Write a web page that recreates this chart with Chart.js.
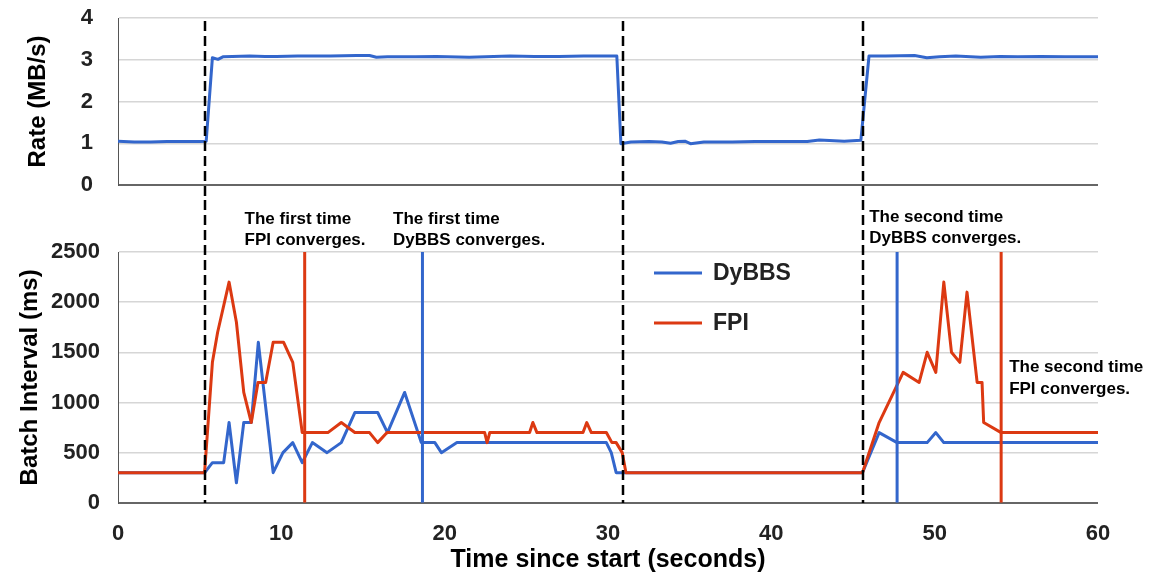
<!DOCTYPE html>
<html>
<head>
<meta charset="utf-8">
<script src="https://cdn.jsdelivr.net/npm/chart.js@4"></script>
<style>
  html, body { margin: 0; padding: 0; background: #fff; }
  #wrap { position: relative; width: 1151px; height: 577px; }
  canvas { position: absolute; left: 0; top: 0; }
</style>
</head>
<body>
<div id="wrap">
  <canvas id="batch" width="1151" height="577"></canvas>
  <canvas id="rate" width="1151" height="200"></canvas>
</div>
<script>
// values (time in seconds)
const rateTimes = [0, 1, 2, 3, 4, 5, 5.4, 5.78, 6.12, 6.42, 7, 8.06, 9, 9.7, 11, 12, 13, 14.6, 15.4, 15.82,
  16.5, 18.2, 19.5, 21.5, 24, 25.5, 27, 28.5, 30.54, 30.79, 31.4, 32.5, 33.3, 33.83, 34.3, 34.71, 35.05, 35.87, 37.6, 39,
  40.5, 42.2, 42.94, 44.46, 45.48, 45.98, 47, 48.77, 49.52, 50.3, 51.3, 52.82, 54, 55.1, 56.5, 58, 60];
const rateValues = [1.05, 1.03, 1.03, 1.04, 1.04, 1.04, 1.05, 3.05, 3.01, 3.07, 3.08, 3.09, 3.08, 3.08, 3.09, 3.09, 3.09, 3.1, 3.1, 3.06,
  3.07, 3.07, 3.08, 3.06, 3.09, 3.08, 3.08, 3.09, 3.09, 0.99, 1.03, 1.04, 1.03, 1.0, 1.04, 1.05, 0.99, 1.03, 1.03, 1.04,
  1.04, 1.04, 1.08, 1.05, 1.07, 3.09, 3.09, 3.1, 3.05, 3.07, 3.09, 3.06, 3.08, 3.07, 3.08, 3.07, 3.07];

const fpiTimes = [0, 5.3, 5.78, 6.1, 6.8, 7.25, 7.7, 8.16, 8.57, 9.04, 9.5, 10.14, 10.7, 11.28, 12.85, 13.67, 14.5, 15.4, 15.9, 16.47,
  22.45, 22.6, 22.76, 25.2, 25.4, 25.65, 28.47, 28.7, 28.98, 29.9, 30.24, 30.5, 30.87, 31.1, 45.58, 46.6, 48.07, 49.05, 49.54,
  50.07, 50.56, 51.03, 51.54, 51.98, 52.6, 52.9, 53.0, 54.07, 60];
const fpiValues = [300, 300, 1400, 1700, 2200, 1800, 1100, 800, 1200, 1200, 1600, 1600, 1400, 700, 700, 800, 700, 700, 600, 700,
  700, 600, 700, 700, 800, 700, 700, 800, 700, 700, 600, 600, 500, 300, 300, 800, 1300, 1200, 1500,
  1300, 2200, 1500, 1400, 2100, 1200, 1200, 800, 700, 700];

const dybbsTimes = [0, 5.3, 5.78, 6.47, 6.8, 7.25, 7.7, 8.16, 8.59, 9.5, 10.1, 10.7, 11.28, 11.9, 12.8, 13.67, 14.5, 15.9, 16.5, 17.55,
  18.57, 19.4, 19.8, 20.75, 29.9, 30.2, 30.5, 30.9, 45.58, 46.6, 47.7, 49.54, 50.07, 50.56, 60];
const dybbsValues = [300, 300, 400, 400, 800, 200, 800, 800, 1600, 300, 500, 600, 400, 600, 500, 600, 900, 900, 700, 1100,
  600, 600, 500, 600, 600, 500, 300, 300, 300, 700, 600, 600, 700, 600, 600];

const phaseChanges = [5.3, 30.9, 45.6];     // dashed lines, rate changes
const fpiConverge = [11.43, 54.07];
const dybbsConverge = [18.64, 47.7];
const seriesNames = ['DyBBS', 'FPI'];
const xTicks = [0, 10, 20, 30, 40, 50, 60];
const rateTicks = [0, 1, 2, 3, 4];
const batchTicks = [0, 500, 1000, 1500, 2000, 2500];

const blue = '#3366cc';
const red = '#dc3912';
const FONT = '"Liberation Sans", Arial, sans-serif';
Chart.defaults.font.family = FONT;

const pts = (ts, vs) => ts.map((t, i) => ({x: t, y: vs[i]}));
const vline = (t, top) => [{x: t, y: 0}, {x: t, y: top}];

// y grid: light lines, dark one at zero; tick marks only used as label spacing
const yGrid = len => ({
  color: c => (c.tick && c.tick.value === 0) ? '#666' : '#d6d6d6',
  lineWidth: c => (c.tick && c.tick.value === 0) ? 2 : 1.5,
  drawTicks: true,
  tickLength: len,
  tickColor: 'rgba(0,0,0,0)'
});

const phaseLines = {
  id: 'phaseLines',
  afterDatasetsDraw(chart) {
    const o = chart.options.plugins.phaseLines;
    const {ctx} = chart;
    const xs = chart.scales.x;
    ctx.save();
    ctx.strokeStyle = '#000';
    ctx.lineWidth = 2.5;
    ctx.setLineDash([10, 5]);
    for (const t of phaseChanges) {
      const px = Math.round(xs.getPixelForValue(t));
      ctx.beginPath();
      ctx.moveTo(px, o.from);
      ctx.lineTo(px, o.to);
      ctx.stroke();
    }
    ctx.restore();
  }
};

// notes above the lower panel, baseline given as offset from the panel top
const notes = [
  {t: 7.75, lines: ['The first time', 'FPI converges.'], dy: [-27.7, -7]},
  {t: 16.84, lines: ['The first time', 'DyBBS converges.'], dy: [-27.7, -7]},
  {t: 45.99, lines: ['The second time', 'DyBBS converges.'], dy: [-30.3, -8.7]},
  {t: 54.56, lines: ['The second time', 'FPI converges.'], value: 1300}
];

const extras = {
  id: 'extras',
  afterDraw(chart) {
    const {ctx, chartArea} = chart;
    const xs = chart.scales.x, ys = chart.scales.y;
    ctx.save();
    // legend
    const colors = [blue, red];
    ctx.font = 'bold 23px ' + FONT;
    ctx.textBaseline = 'middle';
    seriesNames.forEach((name, i) => {
      const y = chartArea.top + 21 + i * 50;
      ctx.strokeStyle = colors[i];
      ctx.lineWidth = 3;
      ctx.beginPath();
      ctx.moveTo(chartArea.left + 536, y);
      ctx.lineTo(chartArea.left + 584, y);
      ctx.stroke();
      ctx.fillStyle = '#222';
      ctx.fillText(name, chartArea.left + 595, y + 1);
    });
    // notes
    ctx.font = 'bold 17px ' + FONT;
    ctx.fillStyle = '#000';
    ctx.textBaseline = 'alphabetic';
    for (const n of notes) {
      const x = xs.getPixelForValue(n.t);
      n.lines.forEach((s, i) => {
        const y = n.value !== undefined ? ys.getPixelForValue(n.value) + i * 21.5 : chartArea.top + n.dy[i];
        ctx.fillText(s, x, y);
      });
    }
    ctx.restore();
  }
};

const lineStyle = {borderWidth: 3, pointRadius: 0, tension: 0, borderJoinStyle: 'round'};

new Chart(document.getElementById('rate'), {
  type: 'line',
  data: {
    datasets: [{label: 'Rate', data: pts(rateTimes, rateValues), borderColor: blue, ...lineStyle}]
  },
  options: {
    responsive: false,
    animation: false,
    layout: {padding: {top: 18, left: 0, right: 53, bottom: 15}},
    plugins: {legend: {display: false}, tooltip: {enabled: false}, phaseLines: {from: 21, to: 200}},
    scales: {
      x: {type: 'linear', min: 0, max: 60, display: false},
      y: {
        min: 0, max: 4,
        afterFit: s => { s.width = 118; },
        afterBuildTicks: s => { s.ticks = rateTicks.map(v => ({value: v})); },
        ticks: {color: '#222', font: {size: 22, weight: 'bold'}, padding: 0, callback: v => String(v)},
        grid: yGrid(25),
        border: {display: true, color: '#555', width: 1},
        title: {display: true, text: 'Rate (MB/s)', color: '#000', font: {size: 24, weight: 'bold'}, padding: {top: 24, bottom: 0}}
      }
    }
  },
  plugins: [phaseLines]
});

new Chart(document.getElementById('batch'), {
  type: 'line',
  data: {
    datasets: [
      ...fpiConverge.map(t => ({data: vline(t, 2500), borderColor: red, borderWidth: 3, pointRadius: 0})),
      ...dybbsConverge.map(t => ({data: vline(t, 2500), borderColor: blue, borderWidth: 3, pointRadius: 0})),
      {label: seriesNames[1], data: pts(fpiTimes, fpiValues), borderColor: red, ...lineStyle},
      {label: seriesNames[0], data: pts(dybbsTimes, dybbsValues), borderColor: blue, ...lineStyle}
    ]
  },
  options: {
    responsive: false,
    animation: false,
    layout: {padding: {top: 252, left: 0, right: 53, bottom: 0}},
    plugins: {legend: {display: false}, tooltip: {enabled: false}, phaseLines: {from: 200, to: 503}},
    scales: {
      x: {
        type: 'linear', min: 0, max: 60,
        afterBuildTicks: s => { s.ticks = xTicks.map(v => ({value: v})); },
        ticks: {color: '#222', font: {size: 22, weight: 'bold'}, padding: 0, maxRotation: 0, callback: v => String(v)},
        grid: {display: true, drawOnChartArea: false, drawTicks: true, tickLength: 18, color: 'rgba(0,0,0,0)', tickColor: 'rgba(0,0,0,0)'},
        border: {display: false},
        title: {display: true, text: 'Time since start (seconds)', color: '#000', font: {size: 25, weight: 'bold', lineHeight: 1}, padding: {top: 0, bottom: 4.8}}
      },
      y: {
        min: 0, max: 2500,
        afterFit: s => { s.width = 118; },
        afterBuildTicks: s => { s.ticks = batchTicks.map(v => ({value: v})); },
        ticks: {color: '#222', font: {size: 22, weight: 'bold'}, padding: 0, callback: v => String(v)},
        grid: yGrid(18),
        border: {display: true, color: '#555', width: 1},
        title: {display: true, text: 'Batch Interval (ms)', color: '#000', font: {size: 24, weight: 'bold'}, padding: {top: 16, bottom: 0}}
      }
    }
  },
  plugins: [phaseLines, extras]
});
</script>
</body>
</html>
